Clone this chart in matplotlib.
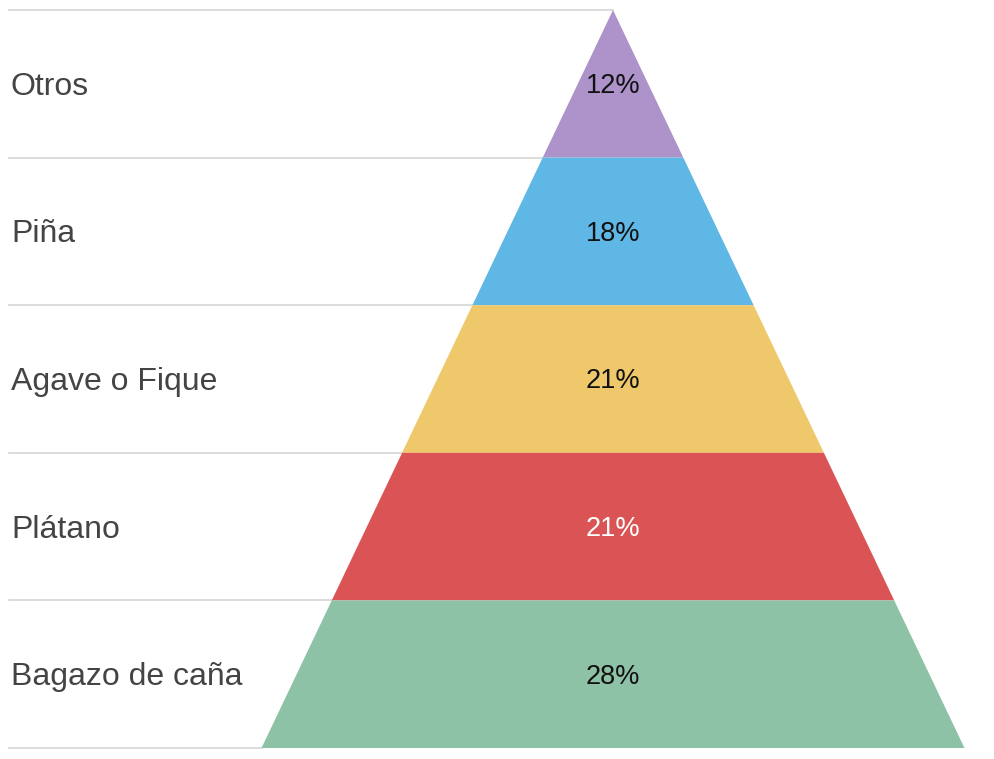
import matplotlib
matplotlib.use("Agg")
import matplotlib.pyplot as plt

plt.rcParams['font.family'] = ['Liberation Sans', 'DejaVu Sans']

# Pyramid layers, top to bottom
categories = ['Otros', 'Piña', 'Agave o Fique', 'Plátano', 'Bagazo de caña']
shares = [12, 18, 21, 21, 28]
colors = ['#ad93c9', '#5fb7e5', '#eec86a', '#db5455', '#8ec2a7']
label_colors = ['#111111', '#111111', '#111111', '#ffffff', '#111111']

W, H = 995, 759
fig = plt.figure(figsize=(W / 100, H / 100), dpi=100)
ax = fig.add_axes([0, 0, 1, 1])
ax.set_xlim(0, W)
ax.set_ylim(H, 0)
ax.axis('off')

# pyramid geometry in pixel units
apex_x, top_y, base_y = 613, 10, 748
base_half = 351.5
left_x = 9
n = len(categories)
band = (base_y - top_y) / n


def half_width(y):
    return base_half * (y - top_y) / (base_y - top_y)


# separator lines between the layers, running up to the left slope
for i in range(n + 1):
    y = top_y + i * band
    ax.plot([left_x, apex_x - half_width(y)], [y, y], color='#d6d6d6', lw=1.2, zorder=1)

for i, (cat, val, col, tcol) in enumerate(zip(categories, shares, colors, label_colors)):
    y0 = top_y + i * band
    y1 = y0 + band
    w0, w1 = half_width(y0), half_width(y1)
    xs = [apex_x - w0, apex_x + w0, apex_x + w1, apex_x - w1]
    ys = [y0, y0, y1, y1]
    ax.fill(xs, ys, color=col, lw=0, zorder=2)
    yc = (y0 + y1) / 2
    ax.text(left_x + 2, yc + 3, cat, fontsize=23, color='#444444',
            ha='left', va='center')
    ax.text(apex_x, yc + 2.5, f'{val}%', fontsize=19.5, color=tcol,
            ha='center', va='center', zorder=3)

fig.savefig('out.png', dpi=100, facecolor='white')
